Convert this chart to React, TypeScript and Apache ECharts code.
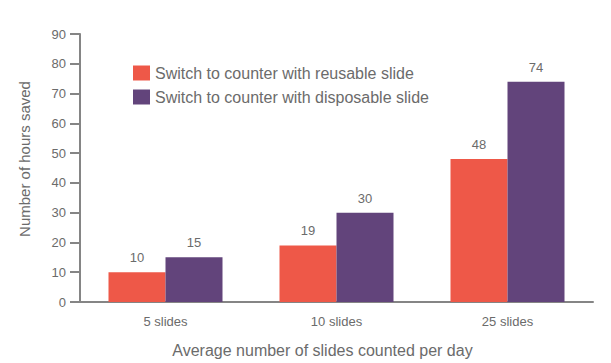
import React, { useEffect, useRef } from "react";
import * as echarts from "echarts";

const categories = ["5 slides", "10 slides", "25 slides"];
const reusable = [10, 19, 48];
const disposable = [15, 30, 74];
const seriesNames = [
  "Switch to counter with reusable slide",
  "Switch to counter with disposable slide",
];

const FONT = "Liberation Sans";
const TEXT = "#6b6b6b";
const AXIS = "#858585";

export default function App() {
  const ref = useRef<HTMLDivElement>(null);
  useEffect(() => {
    const chart = echarts.init(ref.current!, null, { renderer: "svg" });
    chart.setOption({
      animation: false,
      textStyle: { fontFamily: FONT },
      grid: { left: 80, right: 18, top: 34, bottom: 59 },
      legend: {
        orient: "vertical",
        left: 128,
        top: 60,
        itemWidth: 17,
        itemHeight: 15,
        itemGap: 8,
        icon: "rect",
        textStyle: { fontSize: 16, color: TEXT, fontFamily: FONT },
        data: seriesNames,
      },
      xAxis: {
        type: "category",
        data: categories,
        name: "Average number of slides counted per day",
        nameLocation: "middle",
        nameGap: 40,
        nameTextStyle: { fontSize: 16, color: TEXT, padding: [0, 28, 0, 0] },
        axisLine: { lineStyle: { color: AXIS, width: 2 } },
        axisTick: { alignWithLabel: true, length: 10, lineStyle: { color: AXIS, width: 2 } },
        axisLabel: { fontSize: 13, color: TEXT, margin: 13 },
      },
      yAxis: {
        type: "value",
        min: 0,
        max: 90,
        interval: 10,
        name: "Number of hours saved",
        nameLocation: "middle",
        nameGap: 48,
        nameTextStyle: { fontSize: 15, color: TEXT, padding: [0, 0, 0, 18] },
        axisLine: { show: true, lineStyle: { color: AXIS, width: 2 } },
        axisTick: { show: true, length: 10, lineStyle: { color: AXIS, width: 2 } },
        axisLabel: { fontSize: 13, color: TEXT, margin: 14 },
        splitLine: { show: false },
      },
      series: [
        {
          name: seriesNames[0],
          type: "bar",
          data: reusable,
          barWidth: 57,
          barGap: "0%",
          itemStyle: { color: "#ee5848" },
          label: { show: true, position: "top", distance: 8, fontSize: 13, color: TEXT },
        },
        {
          name: seriesNames[1],
          type: "bar",
          data: disposable,
          barWidth: 57,
          barGap: "0%",
          itemStyle: { color: "#62447b" },
          label: { show: true, position: "top", distance: 8, fontSize: 13, color: TEXT },
        },
      ],
    });
    return () => chart.dispose();
  }, []);
  return <div ref={ref} style={{ width: 611, height: 363, position: "absolute", left: 0, top: 0 }} />;
}
